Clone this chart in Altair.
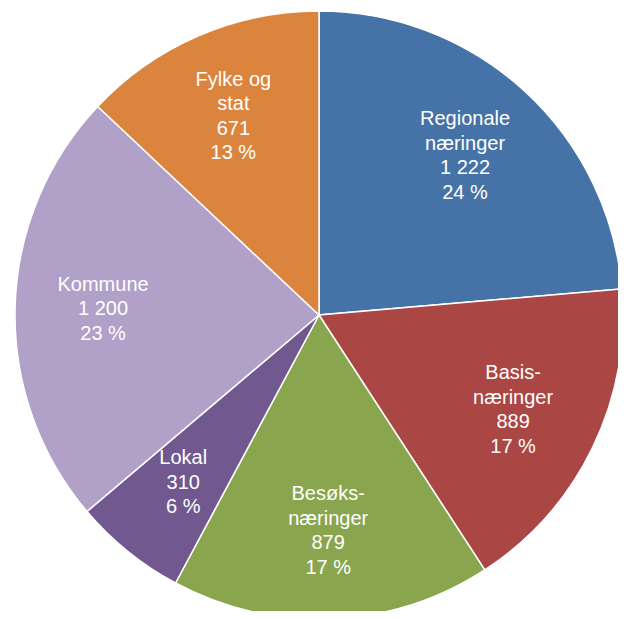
import altair as alt
import pandas as pd

categories = ["Regionale næringer", "Basisnæringer", "Besøksnæringer", "Lokal", "Kommune", "Fylke og stat"]
label_names = ["Regionale\nnæringer", "Basis-\nnæringer", "Besøks-\nnæringer", "Lokal", "Kommune", "Fylke og\nstat"]
values = [1222, 889, 879, 310, 1200, 671]
colors = ["#4572A7", "#AA4643", "#89A54E", "#71588F", "#B1A0C7", "#DB843D"]

total = sum(values)
def fmt(v):
    return f"{v:,}".replace(",", " ")

labels = [f"{n}\n{fmt(v)}\n{round(100 * v / total)} %" for n, v in zip(label_names, values)]

df = pd.DataFrame({
    "category": categories,
    "value": values,
    "order": list(range(len(values))),
})

LINE_H = 24.5
rows = []
for i, (cat, lab) in enumerate(zip(categories, labels)):
    lines = lab.split("\n")
    n = len(lines)
    for j, ln in enumerate(lines):
        rows.append({"category": cat, "line": ln, "k": 2 * j - (n - 1)})
lines_df = pd.DataFrame(rows)

CX, CY, R = 311, 307, 304
RL = 216

theta_scale = alt.Scale(domain=[0, total], range=[0, 6.283185307179586])

base = alt.Chart(df).transform_stack(
    stack="value", groupby=[], as_=["v0", "v1"], sort=[alt.SortField("order", order="ascending")],
).transform_calculate(mid="(datum.v0 + datum.v1) / 2")

arcs = base.mark_arc(stroke="white", strokeWidth=1.5).encode(
    theta=alt.Theta("v0:Q", scale=theta_scale),
    theta2="v1:Q",
    x=alt.value(CX), y=alt.value(CY),
    radius=alt.value(R),
    color=alt.Color("category:N", scale=alt.Scale(domain=categories, range=colors), legend=None),
)

layers = [arcs]
for k in sorted(lines_df["k"].unique()):
    t = base.transform_lookup(
        lookup="category",
        from_=alt.LookupData(lines_df[lines_df["k"] == k], key="category", fields=["line"]),
    ).transform_filter("isValid(datum.line)").mark_text(
        color="white", font="Liberation Sans", fontSize=20,
        align="center", baseline="middle", dy=float(k) * LINE_H / 2,
    ).encode(
        theta=alt.Theta("mid:Q", scale=theta_scale),
        x=alt.value(CX), y=alt.value(CY),
        radius=alt.value(RL),
        text="line:N",
    )
    layers.append(t)

chart = alt.layer(*layers).properties(
    width=610, height=603, padding=0,
    autosize=alt.AutoSizeParams(type="none"),
).configure_view(stroke=None)

chart.save("out.html", embed_options={"renderer": "svg", "actions": False})
